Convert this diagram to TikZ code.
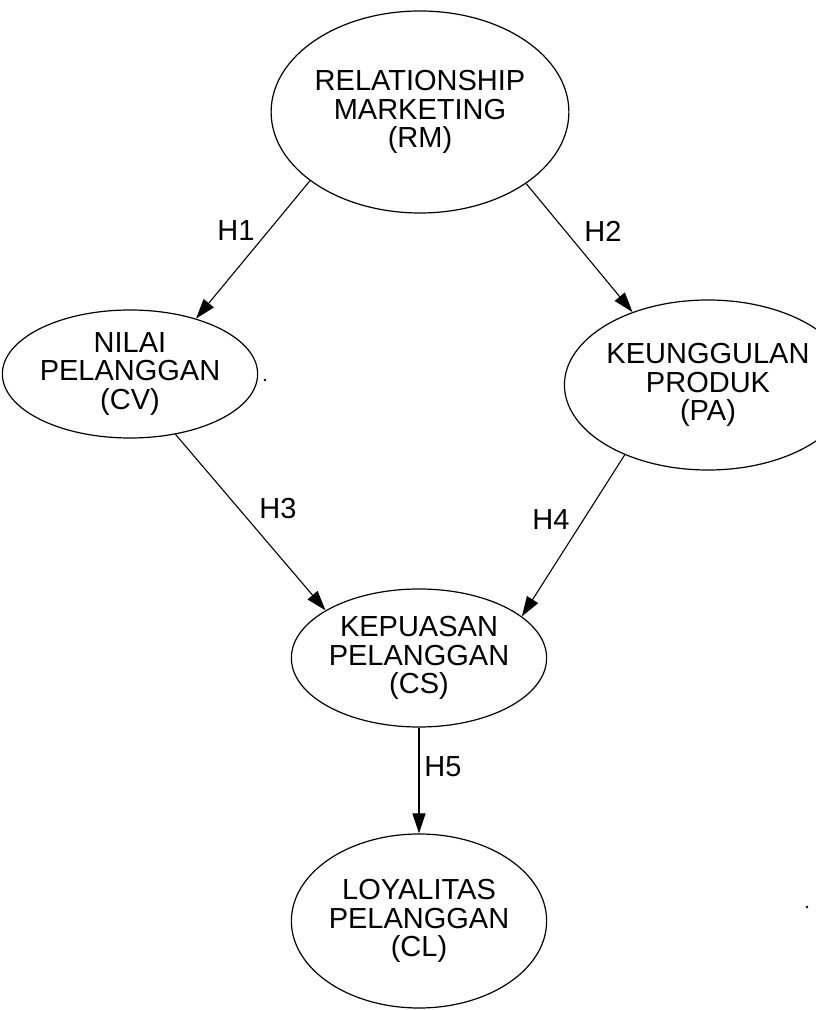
\documentclass[tikz,border=0pt]{standalone}
\usepackage{fontspec}
\setmainfont{Liberation Sans}
\usetikzlibrary{shapes.geometric,arrows.meta}

\begin{document}
\begin{tikzpicture}[x=1pt,y=1pt,
  construct/.style={draw, ellipse, line width=1.2pt, inner sep=0pt, align=center,
    font=\fontsize{29}{28.5}\selectfont},
  path/.style={line width=1.1pt, -{Triangle[length=20pt,width=13pt]}},
  hyp/.style={font=\fontsize{29}{29}\selectfont, inner sep=0pt}]
  \useasboundingbox (0,0) rectangle (816,1010);

  % constructs
  \node[construct, minimum width=264pt, minimum height=202pt] (rm) at (420,898)
    {RELATIONSHIP\\MARKETING\\(RM)};
  \node[construct, minimum width=240pt, minimum height=128pt] (cv) at (130,636)
    {NILAI\\PELANGGAN\\(CV)};
  \node[construct, minimum width=224pt, minimum height=170pt] (pa) at (708,625)
    {KEUNGGULAN\\PRODUK\\(PA)};
  \node[construct, minimum width=220pt, minimum height=138pt] (cs) at (419,352)
    {KEPUASAN\\PELANGGAN\\(CS)};
  \node[construct, minimum width=216pt, minimum height=174pt] (cl) at (419,89)
    {LOYALITAS\\PELANGGAN\\(CL)};

  % hypothesised paths
  \draw[path] (rm.212.6) -- (cv.40.4);
  \draw[path] (rm.326.6) -- (pa.136.2);
  \draw[path] (cv.307.6) -- (cs.153.9);
  \draw[path] (pa.220.9) -- (cs.22.2);
  \draw[path] (cs.south) -- (cl.north);

  % path labels
  \node[hyp] (h1) at (236,779) {H1};
  \node[hyp] (h2) at (603,779) {H2};
  \node[hyp] (h3) at (278,501) {H3};
  \node[hyp] (h4) at (551,490) {H4};
  \node[hyp] (h5) at (443,243) {H5};

  % specks
  \fill (265,630) circle (1.3pt);
  \fill (807,103) circle (1.3pt);
\end{tikzpicture}
\end{document}
